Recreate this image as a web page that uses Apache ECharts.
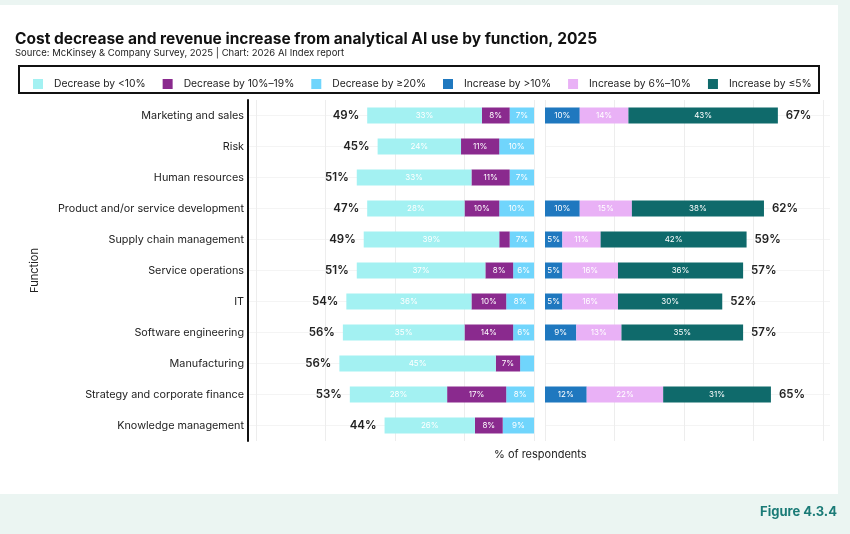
<!DOCTYPE html>
<html>
<head>
<meta charset="utf-8">
<script src="https://cdn.jsdelivr.net/npm/echarts@6/dist/echarts.min.js"></script>
<style>
  html, body { margin: 0; padding: 0; }
  #chart { width: 850px; height: 534px; }
</style>
</head>
<body>
<div id="chart"></div>
<script>
const categories = ['Marketing and sales', 'Risk', 'Human resources', 'Product and/or service development',
    'Supply chain management', 'Service operations', 'IT', 'Software engineering', 'Manufacturing',
    'Strategy and corporate finance', 'Knowledge management'];

// cost decrease (left panel)
const decLt10 = [33, 24, 33, 28, 39, 37, 36, 35, 45, 28, 26];
const dec10to19 = [8, 11, 11, 10, 3, 8, 10, 14, 7, 17, 8];
const decGe20 = [7, 10, 7, 10, 7, 6, 8, 6, 4, 8, 9];
const decTotals = [49, 45, 51, 47, 49, 51, 54, 56, 56, 53, 44];

// revenue increase (right panel)
const incGt10 = [10, null, null, 10, 5, 5, 5, 9, null, 12, null];
const inc6to10 = [14, null, null, 15, 11, 16, 16, 13, null, 22, null];
const incLe5 = [43, null, null, 38, 42, 36, 30, 35, null, 31, null];
const incTotals = [67, null, null, 62, 59, 57, 52, 57, null, 65, null];

const names = ['Decrease by <10%', 'Decrease by 10%–19%', 'Decrease by ≥20%',
    'Increase by >10%', 'Increase by 6%–10%', 'Increase by ≤5%'];
const colors = ['#A3F1F2', '#8A2A8E', '#70D5FC', '#1F78BF', '#E9B1F6', '#0F6A6B'];

const font = 'Inter, "Noto Sans", sans-serif';

function segLabel() {
    return {
        show: true,
        color: '#fff',
        fontSize: 8,
        fontFamily: font,
        formatter: p => (p.value >= 5 ? p.value + '%' : '')
    };
}

function seg(name, data, grid) {
    return {
        name: name,
        type: 'bar',
        stack: 'g' + grid,
        xAxisIndex: grid,
        yAxisIndex: grid,
        barWidth: 16,
        barGap: '-100%',
        data: data,
        itemStyle: { color: colors[names.indexOf(name)] },
        label: segLabel(),
        emphasis: { disabled: true }
    };
}

function totalSeries(parts, totals, grid) {
    const sums = categories.map((c, i) => {
        if (totals[i] == null) return null;
        return parts.reduce((s, arr) => s + (arr[i] || 0), 0);
    });
    return {
        type: 'bar',
        xAxisIndex: grid,
        yAxisIndex: grid,
        barWidth: 16,
        barGap: '-100%',
        silent: true,
        z: 1,
        data: sums,
        itemStyle: { color: 'rgba(0,0,0,0)' },
        label: {
            show: true,
            position: grid == 0 ? 'left' : 'right',
            distance: 8,
            color: '#222',
            fontSize: 11.5,
            fontWeight: 600,
            fontFamily: font,
            formatter: p => (totals[p.dataIndex] == null ? '' : totals[p.dataIndex] + '%')
        }
    };
}

const splitX = { show: true, showMinLine: true, showMaxLine: false, lineStyle: { color: '#ededed', width: 1 } };
const splitY = { show: true, alignWithLabel: true, lineStyle: { color: '#f4f4f4', width: 1 } };

const myChart = echarts.init(document.getElementById('chart'));
const option = {
    backgroundColor: '#ffffff',
    animation: false,
    textStyle: { fontFamily: font },
    graphic: [
        { type: 'rect', shape: { x: 0, y: 0, width: 850, height: 5 }, style: { fill: '#EBF5F2' }, silent: true },
        { type: 'rect', shape: { x: 838, y: 0, width: 12, height: 534 }, style: { fill: '#EBF5F2' }, silent: true },
        { type: 'rect', shape: { x: 0, y: 494, width: 850, height: 40 }, style: { fill: '#EBF5F2' }, silent: true },
        { type: 'rect', shape: { x: 19, y: 66, width: 800, height: 27 },
          style: { fill: 'none', stroke: '#111', lineWidth: 2 }, silent: true },
        { type: 'text', right: 13, top: 506,
          style: { text: 'Figure 4.3.4', fill: '#1B7B77', font: 'bold 13px ' + font } },
        { type: 'text', left: 494, top: 449,
          style: { text: '% of respondents', fill: '#222', font: '11px ' + font } }
    ],
    title: {
        text: 'Cost decrease and revenue increase from analytical AI use by function, 2025',
        subtext: 'Source: McKinsey & Company Survey, 2025 | Chart: 2026 AI Index report',
        left: 10,
        top: 26,
        itemGap: 1,
        textStyle: { fontSize: 15.5, fontWeight: 'bold', color: '#111', fontFamily: font },
        subtextStyle: { fontSize: 9.5, color: '#222', fontFamily: font }
    },
    legend: {
        data: names,
        left: 28,
        top: 74,
        width: 800,
        itemWidth: 10,
        itemHeight: 10,
        itemGap: 17,
        icon: 'rect',
        selectedMode: false,
        textStyle: { fontSize: 10.3, color: '#222', fontFamily: font, padding: [0, 0, 0, 6] }
    },
    grid: [
        { left: 248, right: 316, top: 100, bottom: 93 },
        { left: 545, right: 20, top: 100, bottom: 93 }
    ],
    xAxis: [
        { gridIndex: 0, type: 'value', inverse: true, min: 0, max: 82.3, interval: 20,
          axisLabel: { show: false }, axisLine: { show: false }, axisTick: { show: false }, splitLine: splitX },
        { gridIndex: 1, type: 'value', min: 0, max: 82, interval: 20,
          axisLabel: { show: false }, axisLine: { show: false }, axisTick: { show: false }, splitLine: splitX }
    ],
    yAxis: [
        { gridIndex: 0, type: 'category', data: categories, inverse: true, position: 'left',
          axisLine: { onZero: false, lineStyle: { color: '#111', width: 2 } },
          axisTick: { show: false },
          axisLabel: { color: '#222', fontSize: 10.8, margin: 4, fontFamily: font },
          splitLine: splitY,
          name: 'Function', nameLocation: 'middle', nameRotate: 90, nameGap: 208,
          nameTextStyle: { color: '#222', fontSize: 11, fontFamily: font } },
        { gridIndex: 1, type: 'category', data: categories, inverse: true,
          axisLine: { show: false }, axisTick: { show: false }, axisLabel: { show: false },
          splitLine: splitY }
    ],
    series: [
        seg('Decrease by ≥20%', decGe20, 0),
        seg('Decrease by 10%–19%', dec10to19, 0),
        seg('Decrease by <10%', decLt10, 0),
        totalSeries([decLt10, dec10to19, decGe20], decTotals, 0),
        seg('Increase by >10%', incGt10, 1),
        seg('Increase by 6%–10%', inc6to10, 1),
        seg('Increase by ≤5%', incLe5, 1),
        totalSeries([incGt10, inc6to10, incLe5], incTotals, 1)
    ]
};
option && myChart.setOption(option);
</script>
</body>
</html>
